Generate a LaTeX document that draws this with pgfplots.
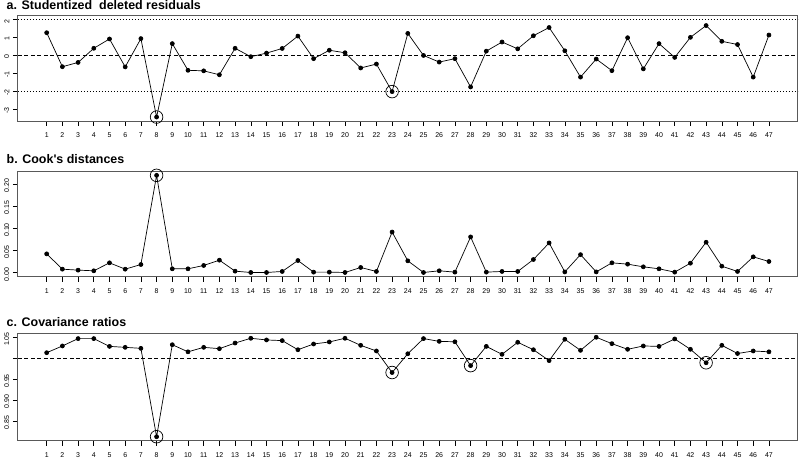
\documentclass[border=0pt]{standalone}
\usepackage{pgfplots}
\pgfplotsset{compat=1.18}
\usepackage{pgfplotstable}
\usepackage{fontspec}
\setmainfont{Liberation Sans}

% case, studentized deleted residual, Cook's distance, covariance ratio
\pgfplotstableread{
id  sdr    cook    covr
1   1.27   0.0427  1.0139
2  -0.63   0.0082  1.0300
3  -0.39   0.0060  1.0476
4   0.40   0.0045  1.0476
5   0.92   0.0225  1.0290
6  -0.64   0.0082  1.0267
7   0.94   0.0187  1.0243
8  -3.44   0.2200  0.8130
9   0.66   0.0090  1.0330
10 -0.83   0.0090  1.0160
11 -0.86   0.0165  1.0267
12 -1.08   0.0285  1.0235
13  0.40   0.0037  1.0370
14 -0.07   0.0007  1.0484
15  0.13   0.0007  1.0444
16  0.39   0.0030  1.0428
17  1.08   0.0277  1.0210
18 -0.18   0.0015  1.0347
19  0.29   0.0015  1.0396
20  0.15   0.0007  1.0484
21 -0.70   0.0120  1.0315
22 -0.48   0.0030  1.0180
23 -2.02   0.0920  0.9665
24  1.23   0.0270  1.0114
25  0.00   0.0007  1.0476
26 -0.37   0.0045  1.0410
27 -0.18   0.0015  1.0400
28 -1.76   0.0810  0.9830
29  0.24   0.0015  1.0290
30  0.75   0.0030  1.0100
31  0.37   0.0030  1.0388
32  1.10   0.0300  1.0210
33  1.56   0.0674  0.9950
34  0.26   0.0020  1.0460
35 -1.21   0.0410  1.0195
36 -0.20   0.0020  1.0508
37 -0.85   0.0225  1.0355
38  0.99   0.0195  1.0220
39 -0.75   0.0135  1.0300
40  0.66   0.0090  1.0290
41 -0.11   0.0015  1.0468
42  1.01   0.0217  1.0220
43  1.67   0.0690  0.9898
44  0.79   0.0150  1.0315
45  0.61   0.0030  1.0120
46 -1.21   0.0360  1.0180
47  1.14   0.0255  1.0160
}\data

\pgfplotsset{
  rpanel/.style={
    scale only axis, width=780bp, anchor=south west,
    xmin=-0.84, xmax=48.84,
    xtick={1,...,47},
    xtick pos=left, ytick pos=left,
    tick align=outside, major tick length=5bp,
    axis line style={draw=black!65, line width=0.8bp},
    tick style={black, line width=0.6bp},
    ticklabel style={font=\fontsize{7}{8}\selectfont},
    xticklabel style={yshift=-3.5bp},
    yticklabel style={rotate=90, anchor=south, xshift=-1.5bp},
    /pgf/number format/assume math mode=true,
    clip=false,
  },
  rline/.style={black, line width=0.7bp, mark=*, mark size=2bp},
  rring/.style={only marks, mark=o, mark size=6.3bp, black, line width=0.7bp},
}

\begin{document}
\begin{tikzpicture}[x=1bp, y=1bp]
\useasboundingbox (0,0) rectangle (800,458);

% a. Studentized deleted residuals
\node[anchor=base west, font=\bfseries\fontsize{12.5}{14}\selectfont, inner sep=0pt]
  at (6.5,448) {a. Studentized\ \ deleted residuals};
\begin{axis}[rpanel, at={(17.8bp,337bp)}, height=105.3bp,
  ymin=-3.66, ymax=2.22, ytick={-3,-2,-1,0,1,2}]
\addplot[black, line width=0.6bp, dash pattern=on 1bp off 2bp] coordinates {(-0.84,2) (48.84,2)};
\addplot[black, line width=0.6bp, dash pattern=on 1bp off 2bp] coordinates {(-0.84,-2) (48.84,-2)};
\addplot[black, line width=0.7bp, dash pattern=on 4bp off 2.5bp] coordinates {(-0.84,0) (48.84,0)};
\addplot[rline] table[x=id, y=sdr] {\data};
\addplot[rring] coordinates {(8,-3.44) (23,-2.02)};
\end{axis}

% b. Cook's distances
\node[anchor=base west, font=\bfseries\fontsize{12.5}{14}\selectfont, inner sep=0pt]
  at (6.5,294) {b. Cook\textquotesingle s distances};
\begin{axis}[rpanel, at={(17.8bp,181.3bp)}, height=105.7bp,
  ymin=-0.0088, ymax=0.2298, ytick={0,0.05,0.1,0.15,0.2},
  yticklabel style={/pgf/number format/.cd, fixed, fixed zerofill, precision=2}]
\addplot[rline] table[x=id, y=cook] {\data};
\addplot[rring] coordinates {(8,0.22)};
\end{axis}

% c. Covariance ratios
\node[anchor=base west, font=\bfseries\fontsize{12.5}{14}\selectfont, inner sep=0pt]
  at (6.5,131.3) {c. Covariance ratios};
\begin{axis}[rpanel, at={(17.8bp,17.3bp)}, height=107.4bp,
  ymin=0.8035, ymax=1.0603, ytick={0.85,0.9,0.95,1,1.05},
  yticklabels={0.85,0.90,0.95,,1.05}]
\addplot[black, line width=0.7bp, dash pattern=on 4bp off 2.5bp] coordinates {(-0.84,1) (48.84,1)};
\addplot[rline] table[x=id, y=covr] {\data};
\addplot[rring] coordinates {(8,0.813) (23,0.9665) (28,0.983) (43,0.9898)};
\end{axis}
\end{tikzpicture}
\end{document}
